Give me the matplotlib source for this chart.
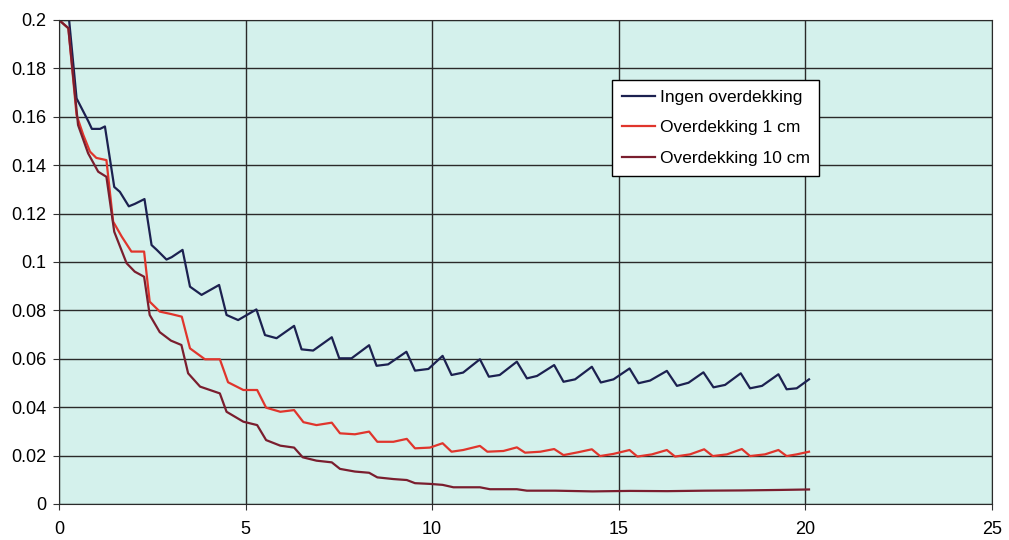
import matplotlib.pyplot as plt

# time axis and the three series
x_ingen = [0, 0.27, 0.47, 0.79, 0.88, 1.1, 1.23, 1.48, 1.63, 1.87, 2.03, 2.29, 2.48, 2.62, 2.88, 3.02,
           3.31, 3.51, 3.82, 4.29, 4.49, 4.8, 5.29, 5.52, 5.83, 6.3, 6.5, 6.81, 7.31, 7.51, 7.84, 8.31,
           8.51, 8.82, 9.31, 9.54, 9.9, 10.28, 10.52, 10.83, 11.28, 11.52, 11.81, 12.27, 12.54, 12.81,
           13.27, 13.52, 13.83, 14.28, 14.52, 14.86, 15.29, 15.53, 15.84, 16.29, 16.56, 16.87, 17.27,
           17.54, 17.85, 18.27, 18.52, 18.84, 19.28, 19.5, 19.77, 20.1]
y_ingen = [0.2, 0.2, 0.1676, 0.158, 0.155, 0.155, 0.156, 0.131, 0.129, 0.123, 0.124, 0.126, 0.107,
           0.105, 0.101, 0.102, 0.105, 0.0898, 0.0864, 0.0905, 0.0781, 0.076, 0.0804, 0.0698, 0.0685,
           0.0736, 0.0639, 0.0634, 0.0689, 0.0602, 0.0602, 0.0656, 0.0571, 0.0577, 0.0629, 0.0551,
           0.0558, 0.0612, 0.0533, 0.0543, 0.0598, 0.0526, 0.0533, 0.0588, 0.0519, 0.0529, 0.0574,
           0.0505, 0.0515, 0.0567, 0.0502, 0.0515, 0.056, 0.0499, 0.051, 0.055, 0.0488, 0.0501, 0.0544,
           0.0482, 0.0492, 0.054, 0.0478, 0.0488, 0.0536, 0.0474, 0.0478, 0.0515]

x_1cm = [0, 0.25, 0.47, 0.65, 0.83, 1.0, 1.27, 1.45, 1.68, 1.94, 2.28, 2.43, 2.7, 3.0, 3.29, 3.51,
         3.91, 4.31, 4.53, 4.94, 5.31, 5.55, 5.93, 6.3, 6.55, 6.9, 7.31, 7.53, 7.93, 8.31, 8.53, 8.96,
         9.32, 9.54, 9.94, 10.28, 10.52, 10.83, 11.28, 11.48, 11.91, 12.27, 12.49, 12.9, 13.27, 13.52,
         13.92, 14.28, 14.5, 14.86, 15.29, 15.5, 15.89, 16.29, 16.51, 16.91, 17.29, 17.52, 17.9, 18.3,
         18.52, 18.92, 19.28, 19.5, 19.77, 20.1]
y_1cm = [0.2, 0.1966, 0.1607, 0.1525, 0.1456, 0.143, 0.1421, 0.1167, 0.1105, 0.1043, 0.1043, 0.0836,
         0.0795, 0.0785, 0.0774, 0.0643, 0.0598, 0.0598, 0.0503, 0.0471, 0.0471, 0.0398, 0.0381,
         0.0388, 0.0338, 0.0326, 0.0336, 0.0292, 0.0288, 0.0299, 0.0257, 0.0257, 0.0269, 0.023,
         0.0233, 0.0251, 0.0216, 0.0223, 0.024, 0.0216, 0.0219, 0.0234, 0.0212, 0.0216, 0.0227,
         0.0202, 0.0214, 0.0226, 0.0198, 0.0207, 0.0223, 0.0196, 0.0205, 0.0223, 0.0196, 0.0205,
         0.0226, 0.0198, 0.0205, 0.0227, 0.0198, 0.0205, 0.0223, 0.0198, 0.0205, 0.0216]

x_10cm = [0, 0.25, 0.51, 0.78, 1.05, 1.27, 1.48, 1.81, 2.03, 2.28, 2.43, 2.7, 3.0, 3.28, 3.46, 3.78,
          4.31, 4.49, 4.94, 5.31, 5.55, 5.93, 6.3, 6.53, 6.9, 7.31, 7.53, 7.93, 8.31, 8.53, 8.96, 9.32,
          9.54, 9.94, 10.28, 10.57, 11.28, 11.55, 12.27, 12.54, 13.3, 14.3, 15.3, 16.3, 17.3, 18.3,
          19.3, 20.1]
y_10cm = [0.2, 0.1966, 0.1566, 0.1449, 0.1373, 0.1352, 0.1125, 0.0995, 0.096, 0.0939, 0.0781, 0.071,
          0.0675, 0.0657, 0.054, 0.0485, 0.0457, 0.0381, 0.034, 0.0326, 0.0264, 0.0241, 0.0233,
          0.0193, 0.0179, 0.0172, 0.0145, 0.0134, 0.0129, 0.011, 0.0103, 0.0099, 0.0086, 0.0083,
          0.0079, 0.0069, 0.0069, 0.0061, 0.0061, 0.0055, 0.0055, 0.0052, 0.0054, 0.0053, 0.0055,
          0.0056, 0.0058, 0.006]

labels = ['Ingen overdekking', 'Overdekking 1 cm', 'Overdekking 10 cm']
colors = ['#1c2150', '#e0352c', '#7a1e2e']

x_ticks = [0, 5, 10, 15, 20, 25]
y_ticks = [0, 0.02, 0.04, 0.06, 0.08, 0.1, 0.12, 0.14, 0.16, 0.18, 0.2]
y_ticklabels = ['0', '0.02', '0.04', '0.06', '0.08', '0.1', '0.12', '0.14', '0.16', '0.18', '0.2']

plt.rcParams['font.family'] = ['Liberation Sans', 'DejaVu Sans']

fig = plt.figure(figsize=(10.09, 5.40), dpi=100)
ax = fig.add_axes([0.0585, 0.0667, 0.9245, 0.8963])
ax.set_facecolor('#d4f1ec')

ax.plot(x_ingen, y_ingen, color=colors[0], lw=1.6, label=labels[0])
ax.plot(x_1cm, y_1cm, color=colors[1], lw=1.6, label=labels[1])
ax.plot(x_10cm, y_10cm, color=colors[2], lw=1.6, label=labels[2])

ax.set_xlim(0, 25)
ax.set_ylim(0, 0.2)
ax.set_xticks(x_ticks)
ax.set_yticks(y_ticks)
ax.set_yticklabels(y_ticklabels)
ax.tick_params(labelsize=13, length=4, color='#333333')
ax.tick_params(axis='x', pad=8)
ax.tick_params(axis='y', pad=5)
ax.grid(True, color='#2a2a2a', lw=1)
ax.set_axisbelow(True)
for s in ax.spines.values():
    s.set_color('#2a2a2a')

leg = ax.legend(loc='upper left', bbox_to_anchor=(0.593, 0.876), fontsize=12.5, frameon=True,
                fancybox=False, handlelength=1.9, handletextpad=0.3, borderpad=0.55,
                labelspacing=0.9, borderaxespad=0)
leg.get_frame().set_edgecolor('black')
leg.get_frame().set_facecolor('white')
leg.get_frame().set_alpha(1)

fig.savefig('out.png', dpi=100)
